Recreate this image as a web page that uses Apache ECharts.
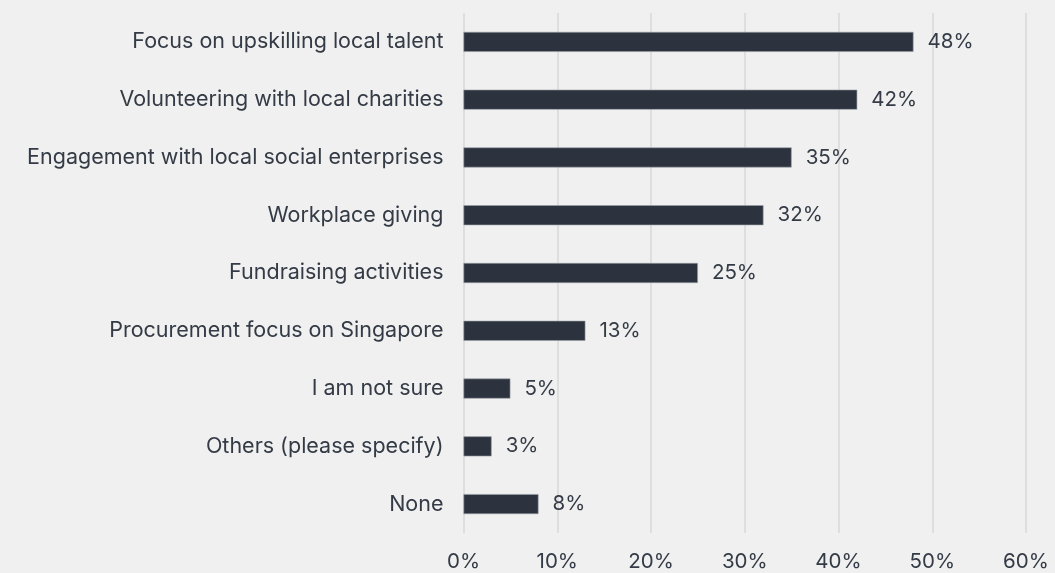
<!DOCTYPE html>
<html>
<head>
<meta charset="utf-8">
<script src="https://cdn.jsdelivr.net/npm/echarts@6/dist/echarts.min.js"></script>
<style>
  html, body { margin: 0; padding: 0; background: #eff0ef; }
  #chart { width: 1055px; height: 573px; }
</style>
</head>
<body>
<div id="chart"></div>
<script>
// Survey categories (top to bottom) and share of respondents (%)
const categories = [
  'Focus on upskilling local talent',
  'Volunteering with local charities',
  'Engagement with local social enterprises',
  'Workplace giving',
  'Fundraising activities',
  'Procurement focus on Singapore',
  'I am not sure',
  'Others (please specify)',
  'None'
];
const values = [48, 42, 35, 32, 25, 13, 5, 3, 8];
const tickMax = 60;
const tickStep = 10;

const textColor = '#343b46';
const fontFamily = 'Inter, "Noto Sans", sans-serif';

const chart = echarts.init(document.getElementById('chart'), null, { renderer: 'canvas' });
chart.setOption({
  backgroundColor: '#eff0ef',
  animation: false,
  grid: { left: 463.5, right: 29, top: 13, bottom: 40, containLabel: false },
  xAxis: {
    type: 'value',
    min: 0,
    max: tickMax,
    interval: tickStep,
    axisLine: { show: false },
    axisTick: { show: false },
    axisLabel: {
      formatter: v => v + '%',
      color: textColor,
      fontSize: 20.5,
      fontFamily: fontFamily,
      margin: 18
    },
    splitLine: { lineStyle: { color: '#d9d9d9', width: 1.5 } }
  },
  yAxis: {
    type: 'category',
    inverse: true,
    data: categories,
    axisLine: { show: false },
    axisTick: { show: false },
    axisLabel: {
      color: textColor,
      fontSize: 21.5,
      fontFamily: fontFamily,
      margin: 20
    }
  },
  series: [{
    type: 'bar',
    data: values,
    barWidth: 20,
    itemStyle: { color: '#2c333e', borderColor: '#9aa0a8', borderWidth: 0.6 },
    label: {
      show: true,
      position: 'right',
      distance: 14,
      formatter: p => p.value + '%',
      color: textColor,
      fontSize: 20.5,
      fontFamily: fontFamily
    }
  }]
});
</script>
</body>
</html>
